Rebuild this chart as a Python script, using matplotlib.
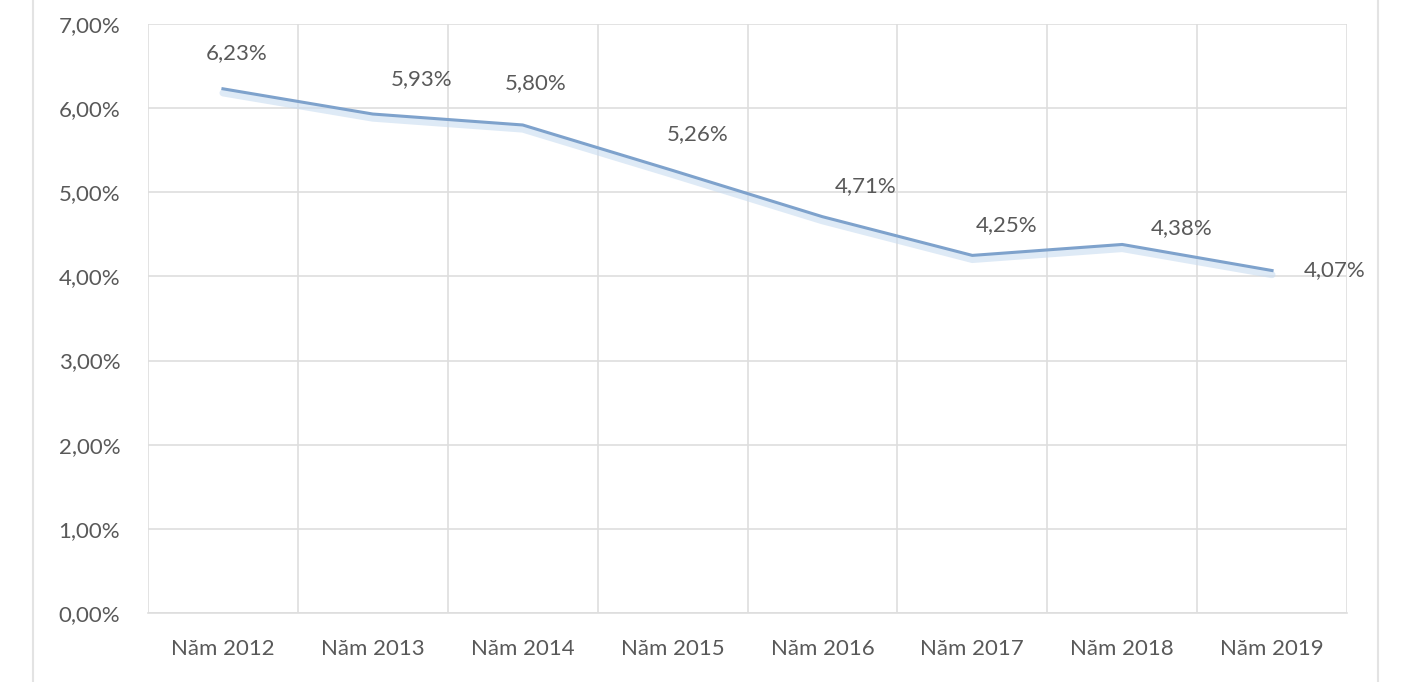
import matplotlib.pyplot as plt
import matplotlib.transforms as mtransforms
from matplotlib.lines import Line2D
from matplotlib.ticker import FixedLocator

# data
years = ['Năm 2012', 'Năm 2013', 'Năm 2014', 'Năm 2015',
         'Năm 2016', 'Năm 2017', 'Năm 2018', 'Năm 2019']
rates = [6.23, 5.93, 5.80, 5.26, 4.71, 4.25, 4.38, 4.07]
yticks = [0, 1, 2, 3, 4, 5, 6, 7]

# label offsets in points (manual placement as in the original)
lab_dx = [10, 35, 9, 18, 31, 25, 43, 45]
lab_dy = [26, 25, 30, 26, 22, 22, 12, 0]

plt.rcParams['font.family'] = ['Lato', 'DejaVu Sans']
txt_col = '#595959'
grid_col = '#dedede'
fs = 16

fig = plt.figure(figsize=(14.19, 6.82), dpi=100)
ax = fig.add_axes([148/1419, 1-613/682, (1347-148)/1419, (613-24)/682])

x = list(range(len(years)))
# soft shadow below the line
shadow = mtransforms.offset_copy(ax.transData, fig=fig, x=0, y=-3, units='points')
ax.plot(x, rates, color='#c9dcf0', lw=5, alpha=0.6, transform=shadow,
        solid_capstyle='round', zorder=2)
ax.plot(x, rates, color='#7ea2cc', lw=2.2, zorder=3)

for i, v in enumerate(rates):
    ax.annotate(f'{v:.2f}%'.replace('.', ','), (i, v),
                xytext=(lab_dx[i], lab_dy[i]), textcoords='offset points',
                ha='center', va='center', fontsize=fs, color=txt_col)

ax.set_xlim(-0.5, len(years) - 0.5)
ax.set_ylim(0, 7)
ax.yaxis.set_major_locator(FixedLocator(yticks))
ax.set_yticklabels([f'{t:.2f}%'.replace('.', ',') for t in yticks])
ax.xaxis.set_major_locator(FixedLocator(x))
ax.set_xticklabels(years)
ax.xaxis.set_minor_locator(FixedLocator([i + 0.5 for i in range(-1, len(years))]))

ax.grid(True, axis='y', which='major', color=grid_col, lw=1.2)
ax.grid(True, axis='x', which='minor', color=grid_col, lw=1.2)
ax.tick_params(which='both', length=0)
ax.tick_params(axis='y', pad=20, labelsize=fs, labelcolor=txt_col)
ax.tick_params(axis='x', pad=19, labelsize=fs, labelcolor=txt_col)
for s in ax.spines.values():
    s.set_visible(False)
ax.spines['bottom'].set_visible(True)
ax.spines['bottom'].set_color(grid_col)
ax.spines['bottom'].set_linewidth(1.2)

# outer frame lines of the chart box
for xp in (33, 1378):
    fig.add_artist(Line2D([xp/1419, xp/1419], [0, 1], color='#e3e3e3', lw=1.5,
                          transform=fig.transFigure))

fig.savefig('out.png', dpi=100)
